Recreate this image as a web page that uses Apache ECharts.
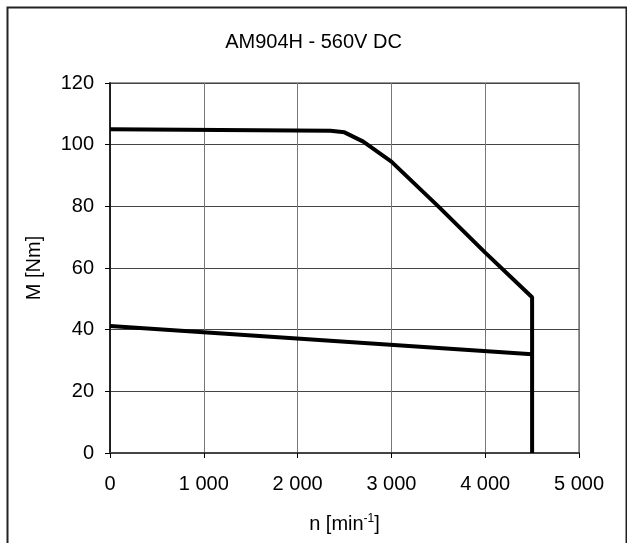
<!DOCTYPE html>
<html>
<head>
<meta charset="utf-8">
<script src="https://cdn.jsdelivr.net/npm/echarts@6/dist/echarts.min.js"></script>
<style>
  html, body { margin: 0; padding: 0; background: #fff; }
  #main { width: 627px; height: 543px; }
</style>
</head>
<body>
<div id="main"></div>
<script>
// 转速 n [min^-1] / 转矩 M [Nm]
var upperSpeed = [0, 2350, 2500, 2700, 3000, 3500, 4000, 4500, 4500];
var upperTorque = [105, 104.5, 104, 101, 94.5, 80, 65, 50.5, 0];
var lowerSpeed = [0, 4500];
var lowerTorque = [41.2, 32];
var xTicks = [0, 1000, 2000, 3000, 4000, 5000];
var yTicks = [0, 20, 40, 60, 80, 100, 120];

function pairs(xs, ys) {
    return xs.map(function (x, i) { return [x, ys[i]]; });
}

var myChart = echarts.init(document.getElementById('main'));
var font = 'Liberation Sans, Arial, sans-serif';

var option = {
    animation: false,
    title: {
        text: 'AM904H - 560V DC',
        left: 'center',
        top: 27,
        textStyle: { fontFamily: font, fontSize: 20, fontWeight: 'normal', color: '#000' }
    },
    graphic: [{
        type: 'rect',
        shape: { x: 7.5, y: 7.5, width: 619, height: 600 },
        style: { fill: 'none', stroke: '#222', lineWidth: 2 },
        silent: true
    }],
    grid: {
        left: 110, top: 83, width: 469, height: 370,
        show: true, borderColor: '#999', borderWidth: 2
    },
    xAxis: {
        type: 'value',
        min: xTicks[0],
        max: xTicks[xTicks.length - 1],
        interval: 1000,
        name: '{a|n [min}{s|-1}{a|]}',
        nameLocation: 'middle',
        nameGap: 60,
        nameTextStyle: {
            rich: {
                a: { fontFamily: font, fontSize: 20, color: '#000' },
                s: { fontFamily: font, fontSize: 12, color: '#000', verticalAlign: 'top', padding: [0, 0, 10, 0] }
            }
        },
        axisLine: { lineStyle: { color: '#444', width: 2 } },
        axisTick: { show: true, length: 5, lineStyle: { color: '#000' } },
        axisLabel: {
            margin: 21,
            fontFamily: font, fontSize: 20, color: '#000',
            formatter: function (v) { return v >= 1000 ? Math.floor(v / 1000) + ' 000' : String(v); }
        },
        splitLine: { show: true, lineStyle: { color: '#777', width: 1 } }
    },
    yAxis: {
        type: 'value',
        min: yTicks[0],
        max: yTicks[yTicks.length - 1],
        interval: 20,
        name: 'M [Nm]',
        nameLocation: 'middle',
        nameGap: 66,
        nameTextStyle: { fontFamily: font, fontSize: 20, color: '#000' },
        axisLine: { show: true, lineStyle: { color: '#000', width: 1.5 } },
        axisTick: { show: true, length: 5, lineStyle: { color: '#000' } },
        axisLabel: { margin: 16, fontFamily: font, fontSize: 20, color: '#000' },
        splitLine: { show: true, lineStyle: { color: '#444', width: 1 } }
    },
    series: [{
        type: 'line',
        data: pairs(upperSpeed, upperTorque),
        showSymbol: false,
        lineStyle: { color: '#000', width: 4 }
    }, {
        type: 'line',
        data: pairs(lowerSpeed, lowerTorque),
        showSymbol: false,
        lineStyle: { color: '#000', width: 4 }
    }]
};
myChart.setOption(option);
</script>
</body>
</html>
